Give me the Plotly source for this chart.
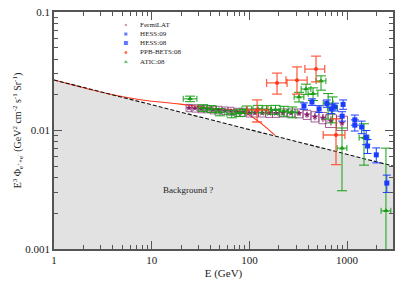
import numpy as np
import plotly.graph_objects as go

# ---------------- data ----------------
# Background power law (black dashed, grey area below)
bg_E = [1, 3000]
bg_val = [0.0267, 0.0050]

# Model curve (red line)
model_E = [1, 4, 8, 19.5, 40, 86, 183]
model_val = [0.0267, 0.0200, 0.0181, 0.0167, 0.0155, 0.0143, 0.0091]

# FermiLAT
fermi_E = [24.1, 27.7, 32.0, 36.8, 42.4, 48.8, 56.2, 64.8, 74.6, 86.0, 99.1, 114,
           135, 159, 187, 221, 267, 322, 389, 469, 566, 684, 887]
fermi_val = [0.0155, 0.0154, 0.0152, 0.0152, 0.0149, 0.0149, 0.0147, 0.0146, 0.0143,
             0.0143, 0.0141, 0.0141, 0.0141, 0.0140, 0.0140, 0.0141, 0.0141, 0.0140,
             0.0136, 0.0131, 0.0128, 0.0121, 0.0116]
fermi_stat = [0.0004, 0.0004, 0.0004, 0.0004, 0.0004, 0.0004, 0.0004, 0.0004, 0.0004,
              0.0004, 0.0004, 0.0005, 0.0005, 0.0005, 0.0005, 0.0006, 0.0006, 0.0007,
              0.0008, 0.0009, 0.0010, 0.0011, 0.0013]
fermi_sys = [0.0011, 0.0011, 0.0011, 0.0011, 0.0011, 0.0011, 0.0011, 0.0011, 0.0011,
             0.0011, 0.0011, 0.0011, 0.0011, 0.0011, 0.0011, 0.0011, 0.0011, 0.0012,
             0.0012, 0.0013, 0.0014, 0.0015, 0.0016]

# HESS 2009
hess09_E = [362, 437, 517, 620, 750, 890, 1200, 1570]
hess09_val = [0.0161, 0.0174, 0.0152, 0.0169, 0.0158, 0.0132, 0.0123, 0.0088]
hess09_err = [0.0010, 0.0011, 0.0010, 0.0012, 0.0012, 0.0012, 0.0012, 0.0012]

# HESS 2008
hess08_E = [690, 910, 1200, 1410, 1620, 1990, 2550]
hess08_val = [0.0152, 0.0166, 0.0111, 0.0107, 0.0074, 0.00623, 0.0036]
hess08_err = [0.0013, 0.0015, 0.0012, 0.0013, 0.0010, 0.0009, 0.0006]

# PPB-BETS 2008
ppb_E = [120, 192, 307, 481, 770]
ppb_val = [0.0149, 0.0252, 0.0266, 0.0330, 0.00916]
ppb_up = [0.0032, 0.0053, 0.0078, 0.0095, 0.0034]
ppb_dn = [0.0031, 0.0049, 0.0063, 0.0073, 0.0040]
ppb_xp = [35, 51, 83, 109, 180]
ppb_xm = [25, 42, 70, 111, 200]

# ATIC 2008
atic_E = [24.7, 33.5, 41, 50, 66, 80, 94, 122, 150, 185, 225, 275, 322, 380, 448,
          541, 640, 710, 887, 1490, 2500]
atic_val = [0.0185, 0.0155, 0.0152, 0.0143, 0.0138, 0.0141, 0.0150, 0.0152, 0.0150,
            0.0150, 0.0146, 0.0143, 0.0192, 0.0224, 0.0204, 0.0262, 0.0170, 0.0155,
            0.0071, 0.0087, 0.0021]
atic_up = [0.0010, 0.0010, 0.0010, 0.0010, 0.0010, 0.0010, 0.0011, 0.0011, 0.0012,
           0.0013, 0.0014, 0.0015, 0.0018, 0.0022, 0.0025, 0.0027, 0.0035, 0.0037,
           0.0034, 0.0027, 0.0050]
atic_dn = [0.0010, 0.0010, 0.0010, 0.0010, 0.0010, 0.0010, 0.0011, 0.0011, 0.0012,
           0.0013, 0.0014, 0.0015, 0.0018, 0.0022, 0.0025, 0.0043, 0.0045, 0.0039,
           0.0040, 0.0036, 0.00205]
atic_xw = [0.07, 0.05, 0.05, 0.05, 0.05, 0.05, 0.05, 0.05, 0.05, 0.05, 0.05, 0.05,
           0.05, 0.05, 0.05, 0.05, 0.05, 0.05, 0.05, 0.05, 0.05]

legend_names = ["FermiLAT", "HESS:09", "HESS:08", "PPB-BETS:08", "ATIC:08"]

# ---------------- styling ----------------
SERIF = "Liberation Serif, Times New Roman, serif"
C_FERMI = "#8a1f6a"
C_FERMI_BOX = "rgba(138,60,120,0.8)"
C_BLUE = "#1a3cff"
C_RED = "#ff3a1a"
C_GREEN = "#14a014"

fig = go.Figure()

# grey background area + dashed line
fig.add_trace(go.Scatter(x=bg_E, y=bg_val, mode="lines", fill="tozeroy",
                         fillcolor="#e2e2e2", line=dict(color="rgba(0,0,0,0)", width=0),
                         hoverinfo="skip", showlegend=False))
fig.add_trace(go.Scatter(x=model_E, y=model_val, mode="lines",
                         line=dict(color=C_RED, width=1.1, shape="spline"),
                         showlegend=False))
fig.add_trace(go.Scatter(x=bg_E, y=bg_val, mode="lines",
                         line=dict(color="#111111", width=1.1, dash="4px,2px"),
                         showlegend=False))

# Fermi systematic boxes (built from data)
bx, by = [], []
for i, (e, v, s) in enumerate(zip(fermi_E, fermi_val, fermi_sys)):
    if i + 1 < len(fermi_E):
        hw = (np.log10(fermi_E[i + 1]) - np.log10(e)) / 2
    else:
        hw = (np.log10(e) - np.log10(fermi_E[i - 1])) / 2
    lo, hi = e / 10 ** hw, e * 10 ** hw
    bx += [lo, hi, hi, lo, lo, None]
    by += [v - s, v - s, v + s, v + s, v - s, None]
fig.add_trace(go.Scatter(x=bx, y=by, mode="lines",
                         line=dict(color=C_FERMI_BOX, width=1), showlegend=False,
                         hoverinfo="skip"))

fig.add_trace(go.Scatter(
    x=fermi_E, y=fermi_val, mode="markers",
    marker=dict(symbol="star", size=5, color=C_FERMI),
    error_y=dict(type="data", array=fermi_stat, color=C_FERMI, thickness=1, width=0),
    error_x=dict(type="data", array=[e * 0.06 for e in fermi_E],
                 arrayminus=[e * 0.06 for e in fermi_E], color=C_FERMI, thickness=1, width=0),
    showlegend=False))

fig.add_trace(go.Scatter(
    x=atic_E, y=atic_val, mode="markers",
    marker=dict(symbol="triangle-up", size=5, color=C_GREEN),
    error_y=dict(type="data", array=atic_up, arrayminus=atic_dn, color=C_GREEN,
                 thickness=1, width=5),
    error_x=dict(type="data", array=[e * (10 ** w - 1) for e, w in zip(atic_E, atic_xw)],
                 arrayminus=[e * (1 - 10 ** -w) for e, w in zip(atic_E, atic_xw)],
                 color=C_GREEN, thickness=1, width=3),
    showlegend=False))

fig.add_trace(go.Scatter(
    x=ppb_E, y=ppb_val, mode="markers",
    marker=dict(symbol="circle", size=4, color=C_RED),
    error_y=dict(type="data", array=ppb_up, arrayminus=ppb_dn, color="rgba(255,70,40,0.85)",
                 thickness=1.3, width=5),
    error_x=dict(type="data", array=ppb_xp, arrayminus=ppb_xm, color="rgba(255,70,40,0.85)",
                 thickness=1.3, width=4),
    showlegend=False))

fig.add_trace(go.Scatter(
    x=hess09_E, y=hess09_val, mode="markers",
    marker=dict(symbol="square", size=5, color=C_BLUE),
    error_y=dict(type="data", array=hess09_err, color=C_BLUE, thickness=1, width=4),
    showlegend=False))

fig.add_trace(go.Scatter(
    x=hess08_E, y=hess08_val, mode="markers",
    marker=dict(symbol="square", size=5, color=C_BLUE),
    error_y=dict(type="data", array=hess08_err, color=C_BLUE, thickness=1, width=4),
    showlegend=False))

# manual compact legend on an overlay axis pair
leg_y = [0.945, 0.907, 0.869, 0.829, 0.789]
leg_sym = ["star", "square", "square", "circle", "triangle-up"]
leg_col = [C_FERMI, C_BLUE, C_BLUE, C_RED, C_GREEN]
leg_size = [4, 4, 5, 4, 5]
fig.add_trace(go.Scatter(x=[0.212] * 5, y=leg_y, mode="markers", xaxis="x2", yaxis="y2",
                         marker=dict(symbol=leg_sym, color=leg_col, size=leg_size),
                         showlegend=False, hoverinfo="skip"))
fig.add_trace(go.Scatter(x=[0.254] * 5, y=leg_y, mode="text", xaxis="x2", yaxis="y2",
                         text=legend_names, textposition="middle right",
                         textfont=dict(family=SERIF, size=7, color="#222"),
                         showlegend=False, hoverinfo="skip"))

minor_x = [m * 10 ** d for d in range(0, 4) for m in range(2, 10) if m * 10 ** d < 3000]
minor_y = [m * 10 ** d for d in (-3, -2) for m in range(2, 10)]

axis_common = dict(showline=True, linecolor="#555", linewidth=1.5, mirror="allticks",
                   ticks="inside", ticklen=8, tickcolor="#555", tickwidth=1.2,
                   showgrid=False, zeroline=False, automargin=False,
                   tickfont=dict(family=SERIF, size=11, color="#222"))

fig.update_layout(
    width=414, height=284,
    margin=dict(l=54, r=21, t=12, b=35),
    paper_bgcolor="white", plot_bgcolor="white",
    showlegend=False,
    xaxis=dict(type="log", range=[0, 3.47],
               tickvals=[1, 10, 100, 1000], ticktext=["1", "10", "100", "1000"],
               minor=dict(tickvals=minor_x, ticks="inside", ticklen=4, tickcolor="#555",
                          tickwidth=1, showgrid=False),
               title=dict(text="E (GeV)", font=dict(family=SERIF, size=11, color="#222"),
                          standoff=4),
               **axis_common),
    yaxis=dict(type="log", range=[-3, -1],
               tickvals=[0.001, 0.01, 0.1], ticktext=["0.001", "0.01", "0.1"],
               minor=dict(tickvals=minor_y, ticks="inside", ticklen=4, tickcolor="#555",
                          tickwidth=1, showgrid=False),
               title=dict(text="E<sup>3</sup> Φ<sub>e<sup>+</sup>+e<sup>-</sup></sub> "
                               "(GeV<sup>2</sup> cm<sup>-2</sup> s<sup>-1</sup> Sr<sup>-1</sup>)",
                          font=dict(family=SERIF, size=10, color="#222"), standoff=2),
               **axis_common),
    xaxis2=dict(overlaying="x", anchor="y2", range=[0, 1], visible=False),
    yaxis2=dict(overlaying="y", anchor="x2", range=[0, 1], visible=False),
    annotations=[dict(x=np.log10(23.5), y=np.log10(0.00315), xref="x", yref="y",
                      text="Background ?", showarrow=False,
                      font=dict(family=SERIF, size=9, color="#222"))],
)

fig.write_html("out.html", config={"displayModeBar": False},
               post_script="document.body.style.margin='0';document.body.style.padding='0';")
